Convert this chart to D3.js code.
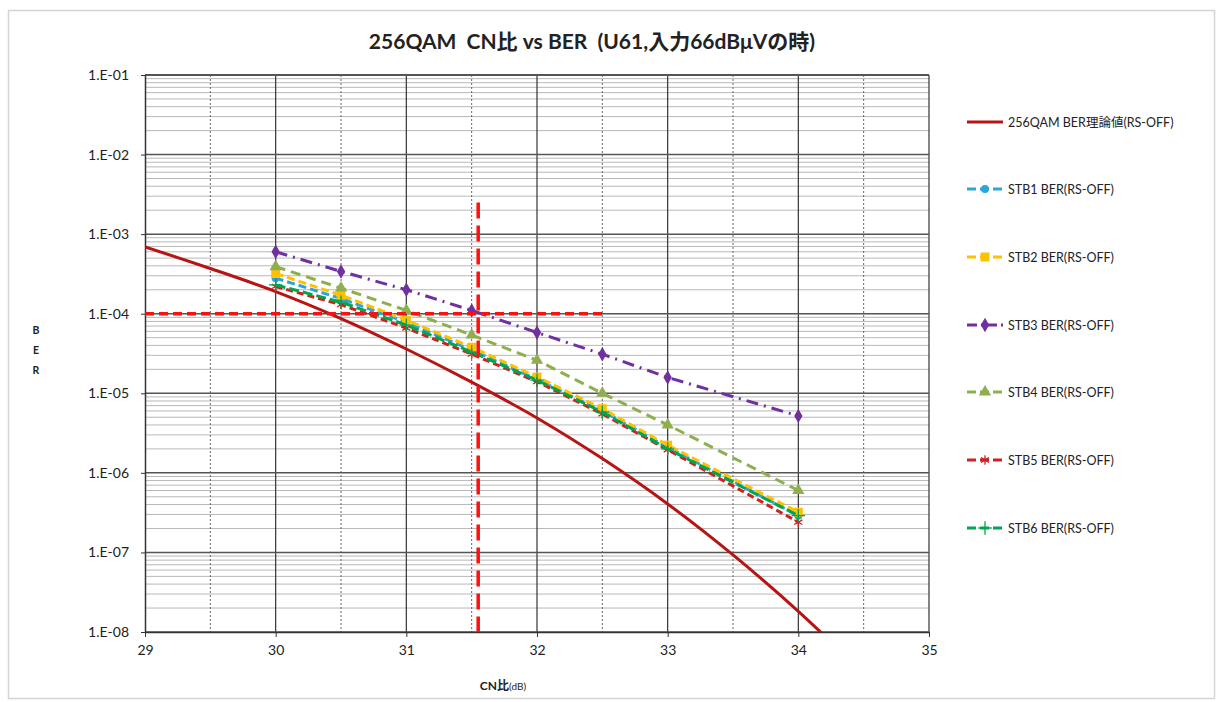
<!DOCTYPE html>
<html>
<head>
<meta charset="utf-8">
<script src="https://cdn.jsdelivr.net/npm/d3@7"></script>
<style>
  html, body { margin: 0; padding: 0; background: #fff; }
  svg { display: block; }
  text { font-family: Lato, "Noto Sans CJK JP", "Noto Sans", sans-serif; fill: #222; }
</style>
</head>
<body>
<svg id="chart" width="1220" height="702"></svg>
<script>
// ---- data ----
const cnTicks = [29, 30, 31, 32, 33, 34, 35];
const berTicks = [1e-1, 1e-2, 1e-3, 1e-4, 1e-5, 1e-6, 1e-7, 1e-8];
const berTickLabels = ["1.E-01", "1.E-02", "1.E-03", "1.E-04", "1.E-05", "1.E-06", "1.E-07", "1.E-08"];

// theoretical 256QAM BER curve (RS-OFF)
const theoryCN  = [29, 29.5, 30, 30.5, 31, 31.5, 32, 32.5, 33, 33.5, 34, 34.5];
const theoryBER = [6.9e-4, 3.7e-4, 1.9e-4, 8.7e-5, 3.6e-5, 1.38e-5, 4.9e-6, 1.51e-6, 4.07e-7, 9.3e-8, 1.82e-8, 3.0e-9];

// measured STB points
const stbCN   = [30, 30.5, 31, 31.5, 32, 32.5, 33, 34];
const stb1BER = [2.8e-4, 1.55e-4, 7.8e-5, 3.5e-5, 1.5e-5, 6.0e-6, 2.1e-6, 2.9e-7];
const stb2BER = [3.2e-4, 1.71e-4, 8.3e-5, 3.8e-5, 1.6e-5, 6.4e-6, 2.23e-6, 3.2e-7];
const stb3BER = [6.0e-4, 3.4e-4, 2.0e-4, 1.1e-4, 5.8e-5, 3.1e-5, 1.58e-5, 5.2e-6];
const stb4BER = [3.9e-4, 2.1e-4, 1.1e-4, 5.4e-5, 2.6e-5, 1.0e-5, 4.0e-6, 6.0e-7];
const stb5BER = [2.2e-4, 1.3e-4, 6.6e-5, 3.1e-5, 1.4e-5, 5.5e-6, 1.95e-6, 2.4e-7];
const stb6BER = [2.3e-4, 1.4e-4, 7.2e-5, 3.3e-5, 1.46e-5, 5.8e-6, 2.0e-6, 2.9e-7];

// reference markers: BER 1E-4 threshold and the CN ratio where it is met
const refBER = 1e-4;
const refCN = 31.55;
const refLineEndCN = 32.5;
const refLineTopBER = 2.5e-3;

const seriesNames = [
  "256QAM BER理論値(RS-OFF)",
  "STB1 BER(RS-OFF)", "STB2 BER(RS-OFF)", "STB3 BER(RS-OFF)",
  "STB4 BER(RS-OFF)", "STB5 BER(RS-OFF)", "STB6 BER(RS-OFF)"
];

// ---- layout ----
const svg = d3.select("#chart");
const plot = { left: 145, right: 929, top: 75, bottom: 632 };

const x = d3.scaleLinear().domain([29, 35]).range([plot.left, plot.right]);
const y = d3.scaleLog().domain([1e-8, 1e-1]).range([plot.bottom, plot.top]);

// outer frame
svg.append("rect")
  .attr("x", 8.5).attr("y", 10.5).attr("width", 1206).attr("height", 688)
  .attr("fill", "#fff").attr("stroke", "#d4d4d4").attr("stroke-width", 1.5);

// title
svg.append("text")
  .attr("x", 592).attr("y", 49)
  .attr("text-anchor", "middle")
  .attr("font-size", 21).attr("font-weight", "bold")
  .attr("fill", "#333")
  .style("white-space", "pre")
  .text("256QAM  CN比 vs BER  (U61,入力66dBμVの時)");

// ---- grid ----
const grid = svg.append("g");
// minor horizontal lines (2..9 in each decade)
const minorVals = [];
for (let e = -8; e < -1; e++) for (let m = 2; m <= 9; m++) minorVals.push(m * Math.pow(10, e));
grid.selectAll("line.minor").data(minorVals).join("line")
  .attr("x1", plot.left).attr("x2", plot.right)
  .attr("y1", d => y(d)).attr("y2", d => y(d))
  .attr("stroke", "#b8b8b8").attr("stroke-width", 1);
// half-dB dotted verticals
const halfVals = d3.range(29.5, 35, 1);
grid.selectAll("line.half").data(halfVals).join("line")
  .attr("x1", d => x(d)).attr("x2", d => x(d))
  .attr("y1", plot.top).attr("y2", plot.bottom)
  .attr("stroke", "#666").attr("stroke-width", 1).attr("stroke-dasharray", "2,2");
// integer verticals
grid.selectAll("line.major-x").data(cnTicks.slice(1)).join("line")
  .attr("x1", d => x(d)).attr("x2", d => x(d))
  .attr("y1", plot.top).attr("y2", plot.bottom)
  .attr("stroke", "#333").attr("stroke-width", 1.2);
// decade horizontals
grid.selectAll("line.major-y").data(berTicks).join("line")
  .attr("x1", plot.left).attr("x2", plot.right)
  .attr("y1", d => y(d)).attr("y2", d => y(d))
  .attr("stroke", "#555").attr("stroke-width", d => d === 1e-1 ? 2 : 1.5);

// ---- axes ----
const xAxis = svg.append("g")
  .attr("transform", `translate(0,${plot.bottom})`)
  .call(d3.axisBottom(x).tickValues(cnTicks).tickFormat(d3.format("d")).tickSize(5).tickSizeOuter(0).tickPadding(8));
xAxis.select(".domain").attr("stroke", "#333").attr("stroke-width", 1.5);
xAxis.selectAll(".tick line").attr("stroke", "#333");
xAxis.selectAll("text").attr("font-size", 14).attr("fill", "#333")
  .style("font-family", "Lato, 'Noto Sans', sans-serif");

const yAxis = svg.append("g")
  .attr("transform", `translate(${plot.left},0)`)
  .call(d3.axisLeft(y).tickValues(berTicks)
    .tickFormat((d, i) => berTickLabels[i]).tickSize(4).tickSizeOuter(0).tickPadding(12));
yAxis.select(".domain").attr("stroke", "#333").attr("stroke-width", 1.5);
yAxis.selectAll(".tick line").attr("stroke", "#333");
yAxis.selectAll("text").attr("font-size", 14).attr("fill", "#333")
  .style("font-family", "Lato, 'Noto Sans', sans-serif");

// axis titles
const yTitle = svg.append("text")
  .attr("x", 36).attr("y", 334)
  .attr("text-anchor", "middle")
  .attr("font-size", 10.5).attr("font-weight", "bold").attr("fill", "#333");
["B", "E", "R"].forEach((c, i) => {
  yTitle.append("tspan").attr("x", 36).attr("dy", i === 0 ? 0 : 20).text(c);
});

const xTitle = svg.append("text")
  .attr("x", 503).attr("y", 690)
  .attr("text-anchor", "middle")
  .attr("font-weight", "bold").attr("fill", "#333");
xTitle.append("tspan").attr("font-size", 12).text("CN比");
xTitle.append("tspan").attr("font-size", 10).attr("font-weight", "normal").text("(dB)");

// ---- series ----
svg.append("defs").append("clipPath").attr("id", "plotClip")
  .append("rect")
  .attr("x", plot.left).attr("y", plot.top)
  .attr("width", plot.right - plot.left).attr("height", plot.bottom - plot.top);

const line = d3.line().x(d => x(d[0])).y(d => y(d[1]));
const smooth = d3.line().curve(d3.curveCatmullRom).x(d => x(d[0])).y(d => y(d[1]));

// theory curve
svg.append("path")
  .datum(d3.zip(theoryCN, theoryBER))
  .attr("clip-path", "url(#plotClip)")
  .attr("d", smooth)
  .attr("fill", "none").attr("stroke", "#B81414").attr("stroke-width", 3);

const stbSeries = [
  { name: seriesNames[1], vals: stb1BER, color: "#2EA3DC", dash: "8,4", symbol: d3.symbolCircle, size: 50, fill: true },
  { name: seriesNames[2], vals: stb2BER, color: "#FFC000", dash: "8,4", symbol: d3.symbolSquare, size: 80, fill: true },
  { name: seriesNames[3], vals: stb3BER, color: "#7030A0", dash: "12,6,2,6", symbol: d3.symbolDiamond, size: 60, fill: true },
  { name: seriesNames[4], vals: stb4BER, color: "#8FAE4E", dash: "10,6", symbol: d3.symbolTriangle, size: 65, fill: true },
  { name: seriesNames[5], vals: stb5BER, color: "#D02020", dash: "7,4", symbol: d3.symbolAsterisk, size: 60, fill: false },
  { name: seriesNames[6], vals: stb6BER, color: "#00A550", dash: "10,4", symbol: d3.symbolPlus, size: 60, fill: false }
];

stbSeries.forEach(s => {
  const pts = d3.zip(stbCN, s.vals);
  const g = svg.append("g");
  g.append("path").datum(pts)
    .attr("d", line)
    .attr("fill", "none").attr("stroke", s.color)
    .attr("stroke-width", 3).attr("stroke-dasharray", s.dash);
  g.selectAll("path.pt").data(pts).join("path")
    .attr("transform", d => `translate(${x(d[0])},${y(d[1])})`)
    .attr("d", d3.symbol().type(s.symbol).size(s.size))
    .attr("fill", s.fill ? s.color : "none")
    .attr("stroke", s.color).attr("stroke-width", s.fill ? 0 : 1.3);
});

// 1E-4 threshold marker lines
svg.append("line")
  .attr("x1", x(29)).attr("x2", x(refLineEndCN))
  .attr("y1", y(refBER)).attr("y2", y(refBER))
  .attr("stroke", "#FF1010").attr("stroke-width", 3.5).attr("stroke-dasharray", "9,5");
svg.append("line")
  .attr("x1", x(refCN)).attr("x2", x(refCN))
  .attr("y1", y(refLineTopBER)).attr("y2", y(1e-8))
  .attr("stroke", "#FF1010").attr("stroke-width", 3.5).attr("stroke-dasharray", "16,7");

// ---- legend ----
const legendRows = [122, 189, 257, 325, 392, 460, 528];
const legend = svg.append("g");
const legendItems = [{ name: seriesNames[0], color: "#B81414", dash: null, symbol: null }].concat(stbSeries);
legendItems.forEach((s, i) => {
  const ly = legendRows[i];
  const g = legend.append("g").attr("transform", `translate(0,${ly})`);
  g.append("line").attr("x1", 967).attr("x2", 1003).attr("y1", 0).attr("y2", 0)
    .attr("stroke", s.color).attr("stroke-width", 3)
    .attr("stroke-dasharray", s.dash ? (i === 3 ? "10,4,2,4" : "9,4") : null);
  if (s.symbol) {
    g.append("path").attr("transform", "translate(985,0)")
      .attr("d", d3.symbol().type(s.symbol).size(s.size))
      .attr("fill", s.fill ? s.color : "#fff")
      .attr("stroke", s.color).attr("stroke-width", s.fill ? 0 : 1.3);
  }
  g.append("text").attr("x", 1008).attr("y", 4.5)
    .attr("font-size", 12.5).attr("fill", "#333")
    .text(s.name);
});
</script>
</body>
</html>
